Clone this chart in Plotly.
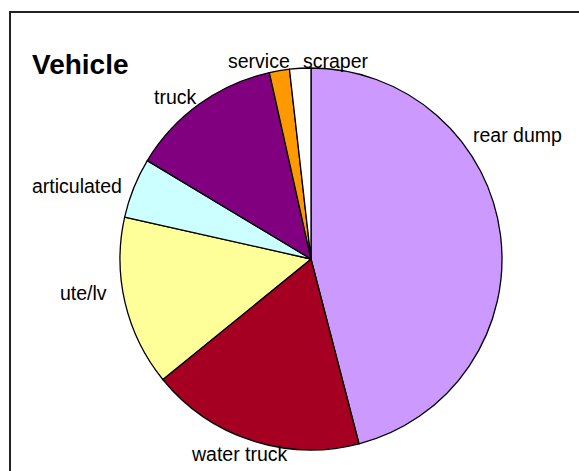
import plotly.graph_objects as go

W, H = 579, 471

categories = ["rear dump", "water truck", "ute/lv", "articulated", "truck", "service", "scraper"]
values = [46.0, 18.2, 14.4, 5.1, 12.9, 1.7, 1.8]
colors = ["#CC99FF", "#A50021", "#FFFF99", "#CCFFFF", "#800080", "#FF9900", "#FFFFFF"]
title_text = "Vehicle"

# label positions in pixels (center x, center y)
label_pos = {
    "rear dump": (517, 135),
    "water truck": (240, 454),
    "ute/lv": (83, 293),
    "articulated": (77, 186),
    "truck": (175, 97),
    "service": (259, 61),
    "scraper": (336, 61),
}

cx, cy, r = 311, 259, 191

fig = go.Figure(go.Pie(
    labels=categories,
    values=values,
    sort=False,
    direction="clockwise",
    rotation=0,
    marker=dict(colors=colors, line=dict(color="black", width=1.3)),
    textinfo="none",
    hoverinfo="label+percent",
    domain=dict(x=[(cx - r) / W, (cx + r) / W], y=[(H - cy - r) / H, (H - cy + r) / H]),
    showlegend=False,
))

font_fam = "Liberation Sans, Arial, sans-serif"
annotations = []
for name in categories:
    px, py = label_pos[name]
    annotations.append(dict(
        x=px / W, y=1 - py / H, xref="paper", yref="paper",
        text=name, showarrow=False, xanchor="center", yanchor="middle",
        font=dict(family=font_fam, size=19.5, color="black"),
    ))
annotations.append(dict(
    x=30 / W, y=1 - 65 / H, xref="paper", yref="paper",
    text="<b>" + title_text + "</b>", showarrow=False, xanchor="left", yanchor="middle",
    font=dict(family=font_fam, size=28, color="black"),
))

fig.update_layout(
    width=W, height=H,
    margin=dict(l=0, r=0, t=0, b=0),
    paper_bgcolor="white",
    plot_bgcolor="white",
    annotations=annotations,
    shapes=[dict(type="rect", xref="paper", yref="paper",
                 x0=10 / W, y0=-0.1, x1=1.1, y1=1 - 12 / H,
                 line=dict(color="#222222", width=2))],
)

fig.write_html("out.html", config={"displayModeBar": False},
               post_script="document.body.style.margin='0px';document.body.style.overflow='hidden';")
